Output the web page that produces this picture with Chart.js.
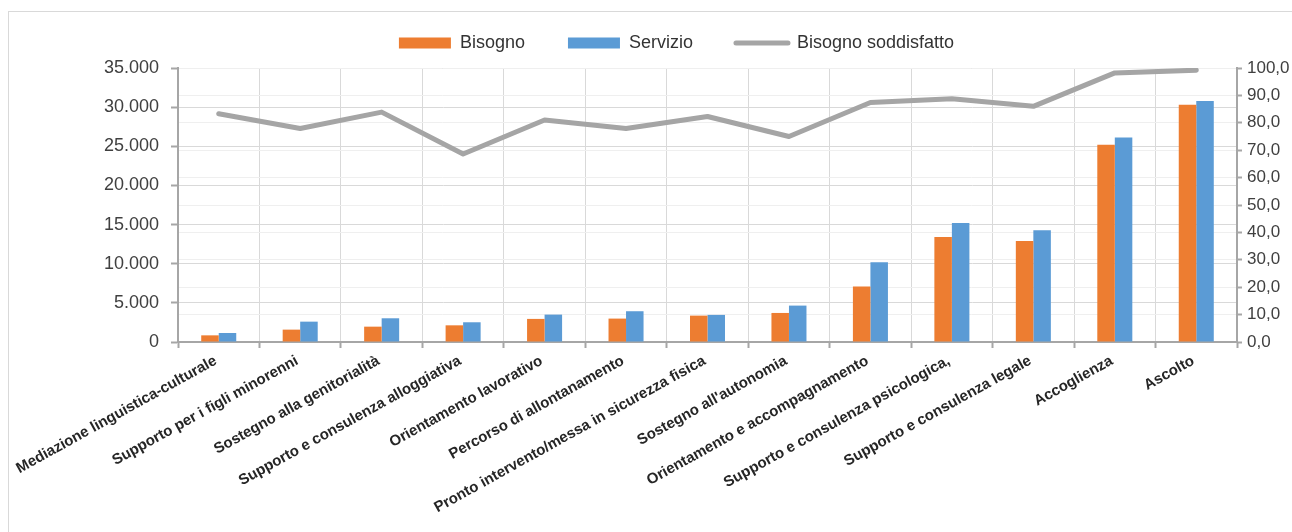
<!DOCTYPE html>
<html lang="it">
<head>
<meta charset="utf-8">
<title>Bisogno e servizio</title>
<script src="https://cdn.jsdelivr.net/npm/chart.js@4.4.1/dist/chart.umd.min.js"></script>
<style>
    html, body { margin: 0; padding: 0; background: #fff; }
    #wrap { position: relative; width: 1292px; height: 532px; overflow: hidden; }
    #cornice { position: absolute; left: 8px; top: 11px; width: 1400px; height: 600px;
               border-left: 1px solid #d9d9d9; border-top: 1px solid #d9d9d9; }
    #grafico { position: absolute; left: 0; top: 0; }
</style>
</head>
<body>
<div id="wrap">
    <div id="cornice"></div>
    <canvas id="grafico" width="1292" height="532"></canvas>
</div>
<script>
const categorie = [
    'Mediazione linguistica-culturale',
    'Supporto per i figli minorenni',
    'Sostegno alla genitorialità',
    'Supporto e consulenza alloggiativa',
    'Orientamento lavorativo',
    'Percorso di allontanamento',
    'Pronto intervento/messa in sicurezza fisica',
    "Sostegno all'autonomia",
    'Orientamento e accompagnamento',
    'Supporto e consulenza psicologica,',
    'Supporto e consulenza legale',
    'Accoglienza',
    'Ascolto'
];
const bisogno = [850, 1580, 1960, 2130, 2950, 2990, 3370, 3710, 7090, 13400, 12900, 25190, 30300];
const servizio = [1150, 2600, 3030, 2520, 3500, 3930, 3460, 4650, 10200, 15200, 14260, 26130, 30780];
const soddisfatto = [83.3, 77.9, 83.9, 68.6, 81.0, 77.9, 82.3, 75.0, 87.4, 88.8, 86.0, 98.2, 99.2];

const fontBase = "'Liberation Sans', Arial, sans-serif";
const grigioAsse = '#a6a6a6';

// separatore delle migliaia col punto, anche per 5.000
const formatoMigliaia = (v) => String(v).replace(/\B(?=(\d{3})+(?!\d))/g, '.');

// un po' di spazio in più sotto la legenda
const spazioLegenda = {
    id: 'spazioLegenda',
    beforeInit(chart) {
        const fit = chart.legend.fit;
        chart.legend.fit = function () {
            fit.call(this);
            this.height += 6;
        };
    }
};

Chart.defaults.font.family = fontBase;

new Chart(document.getElementById('grafico'), {
    type: 'bar',
    data: {
        labels: categorie,
        datasets: [
            {
                label: 'Bisogno',
                data: bisogno,
                backgroundColor: '#ED7D31',
                borderColor: '#ED7D31',
                yAxisID: 'y',
                order: 2,
                categoryPercentage: 0.43,
                barPercentage: 1.0
            },
            {
                label: 'Servizio',
                data: servizio,
                backgroundColor: '#5B9BD5',
                borderColor: '#5B9BD5',
                yAxisID: 'y',
                order: 2,
                categoryPercentage: 0.43,
                barPercentage: 1.0
            },
            {
                type: 'line',
                label: 'Bisogno soddisfatto',
                data: soddisfatto,
                borderColor: '#A5A5A5',
                backgroundColor: '#A5A5A5',
                borderWidth: 5,
                borderCapStyle: 'round',
                borderJoinStyle: 'round',
                pointRadius: 0,
                tension: 0,
                yAxisID: 'y1',
                order: 1
            }
        ]
    },
    options: {
        responsive: false,
        animation: false,
        devicePixelRatio: 1,
        layout: { padding: { top: -9, left: 61, right: 0, bottom: 0 } },
        plugins: {
            tooltip: { enabled: false },
            legend: {
                position: 'top',
                labels: {
                    usePointStyle: true,
                    pointStyleWidth: 52,
                    boxHeight: 11,
                    padding: 43,
                    color: '#333333',
                    font: { size: 18, family: fontBase },
                    generateLabels: (chart) => chart.data.datasets.map((ds, i) => ({
                        text: ds.label,
                        datasetIndex: i,
                        fillStyle: ds.backgroundColor,
                        strokeStyle: ds.borderColor,
                        lineWidth: ds.type === 'line' ? 5 : 0,
                        lineCap: 'round',
                        pointStyle: ds.type === 'line' ? 'line' : 'rect',
                        fontColor: '#333333',
                        hidden: false
                    }))
                }
            }
        },
        scales: {
            x: {
                grid: { offset: true, color: '#d9d9d9', tickColor: grigioAsse, tickLength: 6, tickWidth: 2 },
                border: { color: grigioAsse, width: 2 },
                ticks: {
                    autoSkip: false,
                    minRotation: 29,
                    maxRotation: 29,
                    padding: 4,
                    labelOffset: -3,
                    color: '#262626',
                    font: { size: 15, weight: 'bold', family: fontBase }
                },
                afterFit: (scale) => { scale.height = 190; }
            },
            y: {
                position: 'left',
                min: 0,
                max: 35000,
                grid: { color: '#d9d9d9', tickColor: grigioAsse, tickLength: 7, tickWidth: 2 },
                border: { color: grigioAsse, width: 2 },
                ticks: {
                    stepSize: 5000,
                    padding: 12,
                    color: '#404040',
                    font: { size: 18, family: fontBase },
                    callback: (v) => formatoMigliaia(v)
                },
                afterFit: (scale) => { scale.width = 117; }
            },
            y1: {
                position: 'right',
                min: 0,
                max: 100,
                grid: { color: '#efefef', tickColor: grigioAsse, tickLength: 5, tickWidth: 2 },
                border: { color: grigioAsse, width: 2 },
                ticks: {
                    stepSize: 10,
                    padding: 5,
                    color: '#404040',
                    font: { size: 17, family: fontBase },
                    callback: (v) => v.toFixed(1).replace('.', ',')
                },
                afterFit: (scale) => { scale.width = 55; }
            }
        }
    },
    plugins: [spazioLegenda]
});
</script>
</body>
</html>
